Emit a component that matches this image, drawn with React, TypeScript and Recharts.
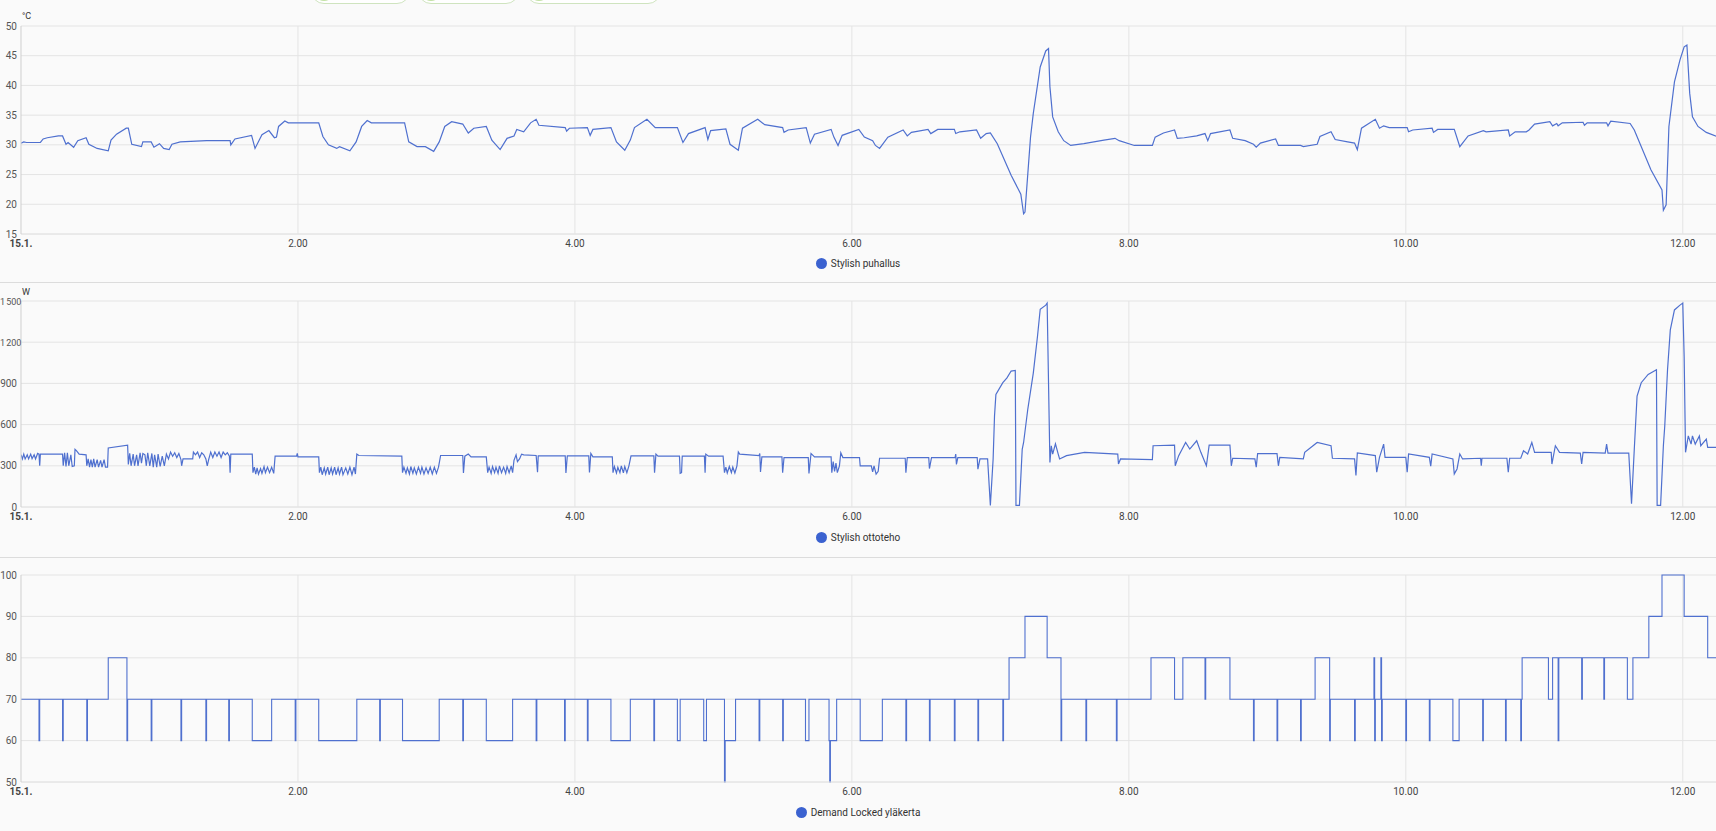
import React from 'react';
import { LineChart, Line, XAxis, YAxis, CartesianGrid } from 'recharts';

// time axis: hours after midnight 15.1.
const hourTicks = [0, 2, 4, 6, 8, 10, 12];
const hourLabels = ['15.1.', '2.00', '4.00', '6.00', '8.00', '10.00', '12.00'];
const tempTicks = [15, 20, 25, 30, 35, 40, 45, 50];
const powerTicks = [0, 300, 600, 900, 1200, 1500];
const demandTicks = [50, 60, 70, 80, 90, 100];

// Stylish puhallus, °C  [hour, value]
const tempPoints: [number, number][] = [
  [0, 30.3], [0.02, 30.5], [0.04, 30.4], [0.14, 30.4], [0.16, 31.0], [0.19, 31.2], [0.27, 31.5], [0.3, 31.5],
  [0.325, 30.1], [0.34, 30.4], [0.38, 29.6], [0.41, 30.7], [0.47, 31.2], [0.49, 30.1], [0.55, 29.4], [0.63, 29.0],
  [0.65, 30.8], [0.69, 31.8], [0.76, 32.8], [0.775, 32.8], [0.8, 30.1], [0.87, 29.7], [0.88, 30.5], [0.94, 30.5],
  [0.96, 29.6], [1.0, 30.2], [1.03, 29.4], [1.07, 29.2], [1.09, 30.1], [1.15, 30.5], [1.34, 30.7], [1.51, 30.7],
  [1.515, 30.0], [1.545, 31.0], [1.665, 31.6], [1.69, 29.4], [1.74, 31.7], [1.79, 32.4], [1.83, 31.2], [1.845, 31.3],
  [1.86, 33.1], [1.905, 34.0], [1.93, 33.7], [2.15, 33.7], [2.18, 31.4], [2.22, 30.0], [2.28, 29.4], [2.3, 29.7],
  [2.375, 29.0], [2.42, 30.5], [2.46, 33.1], [2.5, 34.1], [2.53, 33.7], [2.77, 33.7], [2.8, 30.5], [2.86, 29.7],
  [2.92, 29.7], [2.98, 28.9], [3.02, 30.5], [3.06, 33.1], [3.11, 33.9], [3.19, 33.5], [3.23, 32.0], [3.27, 32.8],
  [3.36, 33.1], [3.4, 30.8], [3.46, 29.2], [3.51, 31.1], [3.56, 31.5], [3.58, 32.6], [3.63, 32.2], [3.68, 33.7],
  [3.72, 34.3], [3.74, 33.3], [3.93, 32.9], [3.94, 32.3], [3.96, 32.8], [4.09, 32.9], [4.11, 31.6], [4.13, 32.6],
  [4.26, 32.9], [4.3, 30.5], [4.36, 29.1], [4.4, 30.8], [4.43, 32.9], [4.52, 34.3], [4.58, 32.9], [4.74, 32.9],
  [4.78, 30.4], [4.82, 31.9], [4.94, 32.9], [4.96, 30.9], [4.98, 32.4], [5.09, 32.7], [5.12, 30.1], [5.18, 29.1],
  [5.21, 32.8], [5.32, 34.3], [5.37, 33.4], [5.5, 32.9], [5.51, 32.1], [5.54, 32.5], [5.67, 32.9], [5.7, 30.3],
  [5.73, 31.8], [5.85, 32.6], [5.87, 31.3], [5.9, 29.9], [5.93, 31.6], [6.05, 32.6], [6.09, 31.3], [6.15, 30.7],
  [6.17, 29.9], [6.2, 29.4], [6.26, 31.3], [6.37, 32.5], [6.4, 31.5], [6.43, 32.1], [6.55, 32.6], [6.57, 31.9],
  [6.62, 32.6], [6.74, 32.6], [6.75, 31.9], [6.78, 32.2], [6.9, 32.5], [6.93, 31.1], [6.97, 31.9], [7.0, 32.0],
  [7.05, 30.2], [7.15, 24.9], [7.22, 21.7], [7.24, 18.4], [7.25, 18.7], [7.29, 31.3], [7.31, 35.3], [7.36, 43.1],
  [7.4, 45.8], [7.42, 46.2], [7.43, 39.8], [7.45, 34.7], [7.49, 32.2], [7.53, 30.7], [7.58, 29.9], [7.675, 30.2],
  [7.82, 30.8], [7.9, 31.1], [7.93, 30.7], [8.04, 29.9], [8.17, 29.9], [8.19, 31.3], [8.25, 32.0], [8.33, 32.5],
  [8.35, 31.1], [8.4, 31.2], [8.49, 31.5], [8.55, 31.9], [8.57, 30.7], [8.59, 31.9], [8.73, 32.5], [8.75, 31.1],
  [8.84, 30.7], [8.9, 30.1], [8.92, 29.6], [8.95, 30.3], [9.06, 31.0], [9.08, 29.9], [9.24, 29.9], [9.26, 29.7],
  [9.36, 30.1], [9.38, 31.4], [9.46, 32.2], [9.49, 30.9], [9.58, 30.5], [9.63, 30.3], [9.65, 29.2], [9.68, 32.8],
  [9.78, 34.3], [9.81, 32.8], [9.84, 33.2], [9.88, 32.9], [10.01, 32.9], [10.02, 32.2], [10.05, 32.5], [10.19, 32.8],
  [10.2, 32.1], [10.23, 32.6], [10.35, 32.6], [10.39, 29.7], [10.45, 31.5], [10.56, 32.4], [10.58, 32.2], [10.74, 32.5],
  [10.75, 31.5], [10.79, 32.2], [10.87, 32.2], [10.89, 32.5], [10.93, 33.5], [11.04, 33.9], [11.06, 33.2], [11.09, 33.6],
  [11.1, 33.2], [11.13, 33.7], [11.28, 33.8], [11.29, 33.3], [11.31, 33.7], [11.45, 33.7], [11.46, 33.2], [11.48, 34.0],
  [11.62, 33.6], [11.65, 32.5], [11.77, 25.8], [11.85, 22.4], [11.86, 19.0], [11.88, 19.9], [11.9, 33.1], [11.94, 40.6],
  [11.98, 44.3], [12.01, 46.5], [12.03, 46.8], [12.05, 38.7], [12.07, 34.7], [12.11, 33.1], [12.17, 32.1], [12.25, 31.4],
];

// Stylish ottoteho, W  [hour, value]
const powerPoints: [number, number][] = [
  [0, 380], [0.01, 350], [0.02, 385], [0.03, 350], [0.045, 380], [0.055, 350], [0.07, 385], [0.08, 352],
  [0.095, 380], [0.105, 350], [0.12, 390], [0.13, 385], [0.135, 300], [0.14, 385], [0.3, 385], [0.305, 300],
  [0.315, 395], [0.325, 295], [0.335, 395], [0.345, 300], [0.36, 380], [0.37, 295], [0.385, 300], [0.39, 420],
  [0.4, 410], [0.42, 385], [0.47, 380], [0.475, 300], [0.485, 350], [0.495, 290], [0.505, 345], [0.515, 290],
  [0.525, 350], [0.535, 290], [0.55, 345], [0.56, 290], [0.575, 340], [0.585, 290], [0.6, 345], [0.61, 290],
  [0.625, 290], [0.63, 430], [0.77, 450], [0.775, 310], [0.785, 390], [0.795, 300], [0.81, 385], [0.82, 300],
  [0.835, 380], [0.845, 300], [0.86, 395], [0.87, 320], [0.88, 390], [0.895, 380], [0.905, 300], [0.915, 395],
  [0.93, 300], [0.945, 390], [0.955, 290], [0.965, 380], [0.98, 290], [0.99, 385], [1.005, 295], [1.02, 370],
  [1.035, 300], [1.05, 385], [1.065, 350], [1.08, 400], [1.095, 370], [1.11, 395], [1.125, 360], [1.14, 390],
  [1.155, 345], [1.16, 300], [1.17, 350], [1.24, 350], [1.245, 400], [1.26, 380], [1.275, 400], [1.29, 360],
  [1.305, 395], [1.32, 380], [1.335, 350], [1.345, 300], [1.355, 345], [1.37, 400], [1.385, 360], [1.4, 400],
  [1.415, 370], [1.43, 400], [1.445, 360], [1.46, 400], [1.475, 380], [1.49, 395], [1.505, 370], [1.51, 250],
  [1.515, 385], [1.67, 385], [1.675, 250], [1.685, 290], [1.695, 240], [1.705, 285], [1.715, 240], [1.73, 280],
  [1.74, 245], [1.755, 295], [1.765, 250], [1.78, 290], [1.795, 250], [1.81, 290], [1.825, 245], [1.835, 370],
  [1.99, 370], [1.995, 390], [2.0, 365], [2.15, 365], [2.155, 250], [2.165, 290], [2.175, 235], [2.19, 285],
  [2.2, 240], [2.215, 290], [2.225, 235], [2.24, 285], [2.25, 240], [2.265, 290], [2.275, 235], [2.29, 285],
  [2.3, 240], [2.315, 290], [2.325, 235], [2.345, 285], [2.36, 240], [2.375, 290], [2.39, 235], [2.405, 290],
  [2.415, 240], [2.425, 385], [2.44, 375], [2.75, 370], [2.755, 250], [2.765, 290], [2.78, 245], [2.79, 285],
  [2.805, 240], [2.815, 295], [2.83, 245], [2.84, 285], [2.855, 240], [2.87, 290], [2.885, 245], [2.895, 290],
  [2.91, 240], [2.925, 285], [2.94, 245], [2.955, 290], [2.97, 240], [2.985, 290], [3.0, 245], [3.015, 290],
  [3.03, 375], [3.19, 375], [3.195, 248], [3.205, 370], [3.23, 386], [3.25, 365], [3.36, 365], [3.37, 250],
  [3.38, 290], [3.395, 245], [3.405, 295], [3.42, 250], [3.43, 290], [3.445, 245], [3.455, 300], [3.47, 250],
  [3.485, 290], [3.5, 245], [3.51, 295], [3.525, 250], [3.54, 300], [3.55, 250], [3.56, 340], [3.575, 380],
  [3.585, 330], [3.6, 350], [3.615, 385], [3.63, 380], [3.72, 375], [3.73, 253], [3.735, 372], [3.93, 372],
  [3.935, 248], [3.945, 372], [4.1, 372], [4.105, 252], [4.115, 390], [4.13, 365], [4.27, 365], [4.275, 250],
  [4.285, 295], [4.3, 248], [4.31, 290], [4.325, 250], [4.335, 300], [4.35, 248], [4.36, 295], [4.375, 250],
  [4.39, 300], [4.405, 372], [4.57, 372], [4.575, 250], [4.585, 385], [4.6, 370], [4.755, 370], [4.76, 245],
  [4.77, 250], [4.775, 370], [4.935, 370], [4.94, 250], [4.945, 385], [4.965, 370], [5.07, 370], [5.08, 250],
  [5.09, 290], [5.1, 248], [5.115, 295], [5.13, 250], [5.14, 290], [5.155, 248], [5.17, 300], [5.18, 400],
  [5.19, 385], [5.33, 375], [5.335, 390], [5.34, 255], [5.35, 365], [5.495, 365], [5.5, 250], [5.51, 360],
  [5.685, 360], [5.69, 245], [5.705, 390], [5.73, 365], [5.85, 365], [5.855, 250], [5.865, 330], [5.875, 260],
  [5.885, 320], [5.895, 250], [5.91, 300], [5.92, 395], [5.935, 360], [6.055, 360], [6.06, 300], [6.14, 300],
  [6.15, 255], [6.16, 300], [6.175, 240], [6.19, 260], [6.2, 355], [6.385, 355], [6.39, 250], [6.4, 360],
  [6.555, 360], [6.56, 280], [6.575, 360], [6.745, 360], [6.75, 385], [6.755, 310], [6.765, 360], [6.905, 360],
  [6.91, 275], [6.925, 350], [6.98, 350], [7.0, 12], [7.02, 350], [7.03, 663], [7.04, 820], [7.09, 905],
  [7.12, 940], [7.15, 990], [7.18, 995], [7.185, 12], [7.21, 12], [7.23, 420], [7.24, 470], [7.27, 710],
  [7.31, 975], [7.34, 1240], [7.36, 1440], [7.4, 1470], [7.41, 1485], [7.43, 325], [7.44, 445], [7.45, 385],
  [7.47, 460], [7.49, 385], [7.5, 350], [7.55, 374], [7.68, 398], [7.92, 385], [7.925, 313], [7.94, 350],
  [8.17, 345], [8.175, 446], [8.33, 450], [8.335, 300], [8.36, 374], [8.41, 470], [8.44, 422], [8.49, 482],
  [8.52, 398], [8.56, 300], [8.58, 450], [8.73, 450], [8.74, 300], [8.75, 355], [8.91, 350], [8.92, 290],
  [8.93, 388], [9.07, 388], [9.08, 300], [9.09, 362], [9.26, 350], [9.27, 398], [9.36, 470], [9.46, 446],
  [9.47, 355], [9.63, 350], [9.64, 230], [9.65, 393], [9.78, 374], [9.79, 253], [9.81, 362], [9.84, 458],
  [9.85, 362], [10.0, 362], [10.01, 253], [10.02, 386], [10.17, 362], [10.18, 297], [10.19, 386], [10.34, 350],
  [10.35, 241], [10.37, 277], [10.39, 386], [10.41, 350], [10.54, 355], [10.545, 300], [10.55, 355], [10.73, 355],
  [10.74, 253], [10.75, 355], [10.83, 355], [10.85, 410], [10.88, 386], [10.91, 470], [10.93, 398], [11.05, 398],
  [11.055, 313], [11.08, 446], [11.11, 398], [11.26, 393], [11.27, 313], [11.28, 398], [11.44, 393], [11.45, 458],
  [11.46, 393], [11.61, 393], [11.63, 24], [11.65, 422], [11.67, 808], [11.7, 905], [11.75, 965], [11.81, 1000],
  [11.815, 12], [11.84, 12], [11.86, 446], [11.87, 590], [11.89, 1000], [11.91, 1290], [11.94, 1435], [11.98, 1470],
  [12.0, 1485], [12.01, 1097], [12.02, 398], [12.04, 518], [12.06, 458], [12.07, 518], [12.09, 458], [12.12, 518],
  [12.13, 446], [12.17, 494], [12.18, 434], [12.25, 434],
];

// Demand Locked yläkerta, step changes  [hour, value]
const demandPoints: [number, number][] = [
  [0, 70], [0.13, 60], [0.135, 70], [0.3, 60], [0.305, 70], [0.475, 60], [0.48, 70], [0.63, 80],
  [0.765, 60], [0.77, 70], [0.94, 60], [0.945, 70], [1.155, 60], [1.16, 70], [1.335, 60], [1.34, 70],
  [1.5, 60], [1.505, 70], [1.67, 60], [1.81, 70], [1.98, 60], [1.985, 70], [2.15, 60], [2.425, 70],
  [2.59, 60], [2.595, 70], [2.755, 60], [3.02, 70], [3.19, 60], [3.195, 70], [3.36, 60], [3.55, 70],
  [3.72, 60], [3.725, 70], [3.925, 60], [3.93, 70], [4.09, 60], [4.095, 70], [4.26, 60], [4.4, 70],
  [4.57, 60], [4.575, 70], [4.74, 60], [4.76, 70], [4.93, 60], [4.95, 70], [5.08, 50], [5.085, 60],
  [5.16, 70], [5.33, 60], [5.335, 70], [5.5, 60], [5.505, 70], [5.665, 60], [5.69, 70], [5.835, 60],
  [5.84, 50], [5.845, 60], [5.89, 70], [6.06, 60], [6.22, 70], [6.39, 60], [6.395, 70], [6.56, 60],
  [6.565, 70], [6.74, 60], [6.745, 70], [6.91, 60], [6.915, 70], [7.09, 60], [7.095, 70], [7.135, 80],
  [7.25, 90], [7.41, 80], [7.51, 60], [7.515, 70], [7.69, 60], [7.695, 70], [7.91, 60], [7.915, 70],
  [8.16, 80], [8.33, 70], [8.39, 80], [8.55, 70], [8.555, 80], [8.73, 70], [8.9, 60], [8.905, 70],
  [9.07, 60], [9.075, 70], [9.24, 60], [9.245, 70], [9.345, 80], [9.45, 60], [9.455, 70], [9.63, 60],
  [9.635, 70], [9.77, 80], [9.775, 60], [9.78, 70], [9.82, 80], [9.825, 60], [9.83, 70], [10.0, 60],
  [10.005, 70], [10.17, 60], [10.175, 70], [10.34, 60], [10.385, 70], [10.555, 60], [10.56, 70], [10.72, 60],
  [10.725, 70], [10.83, 60], [10.835, 70], [10.84, 80], [11.03, 70], [11.06, 80], [11.1, 60], [11.105, 80],
  [11.27, 70], [11.275, 80], [11.43, 70], [11.435, 80], [11.6, 70], [11.64, 80], [11.755, 90], [11.85, 100],
  [12.01, 90], [12.18, 80], [12.25, 80],
];

const toRows = (pts: [number, number][]) => pts.map(([h, v]) => ({ h, v }));
const tempData = toRows(tempPoints);
const powerData = toRows(powerPoints);
const demandData = toRows(demandPoints);

const LINE = '#4f70cf';
const DOT = '#3b62d0';
const FONT = 'Roboto, "Noto Sans", sans-serif';
const W = 1716;

const HourTick = ({ x, y, payload }: any) => {
  const i = hourTicks.indexOf(payload.value);
  return (
    <text x={x} y={y} dy={8.5} textAnchor="middle" fontSize={10} fill="#444"
      fontFamily={FONT} fontWeight={i === 0 ? 700 : 400}>
      {hourLabels[i]}
    </text>
  );
};

// thousands split with a narrow no-break space, e.g. "1 500"
const fmtPower = (v: number) =>
  v >= 1000 ? `${Math.floor(v / 1000)}\u202F${String(v % 1000).padStart(3, '0')}` : String(v);

const ValueTick = ({ x, y, payload, fmt }: any) => {
  const label = fmt ? fmt(payload.value) : String(payload.value);
  // the widest labels would run off the left edge; pin them to it instead
  const wide = label.length > 4;
  return (
    <text x={wide ? 0 : x} y={y} dy={3.5} textAnchor={wide ? 'start' : 'end'}
      fontSize={wide ? 9 : 10} fill="#555" fontFamily={FONT}>
      {label}
    </text>
  );
};

interface PanelProps {
  top: number;
  height: number;
  marginTop: number;
  marginBottom: number;
  data: Array<{ h: number; v: number }>;
  ticks: number[];
  step?: boolean;
  fmt?: (v: number) => string;
}

const Panel = ({ top, height, marginTop, marginBottom, data, ticks, step, fmt }: PanelProps) => (
  <div style={{ position: 'absolute', left: 0, top }}>
    <LineChart width={W} height={height} data={data}
      margin={{ top: marginTop, right: 0, left: 0, bottom: marginBottom }}>
      <CartesianGrid stroke="#e4e4e4" strokeWidth={1} horizontalValues={ticks}
        verticalValues={hourTicks.slice(1)} />
      <XAxis dataKey="h" type="number" domain={[0, 12.24]} allowDataOverflow ticks={hourTicks}
        height={20} tickSize={0} tickMargin={4} tick={<HourTick />} tickLine={false}
        axisLine={{ stroke: '#e4e4e4' }} interval={0} />
      <YAxis type="number" domain={[ticks[0], ticks[ticks.length - 1]]} ticks={ticks} width={21}
        tickSize={0} tickMargin={4} tickLine={false} axisLine={{ stroke: '#cfcfcf' }} interval={0}
        tick={<ValueTick fmt={fmt} />} />
      <Line dataKey="v" type={step ? 'stepAfter' : 'linear'} stroke={LINE}
        strokeWidth={step ? 1.1 : 1.2} dot={false} isAnimationActive={false} />
    </LineChart>
  </div>
);

const LegendRow = ({ top, label }: { top: number; label: string }) => (
  <div style={{
    position: 'absolute', left: 0, top, width: W, height: 12, display: 'flex',
    justifyContent: 'center', alignItems: 'center', gap: 4, fontSize: 10, color: '#333', fontFamily: FONT,
  }}>
    <span style={{ width: 11, height: 11, borderRadius: '50%', background: DOT, display: 'inline-block' }} />
    <span>{label}</span>
  </div>
);

const pills = [
  { left: 311, width: 99 },
  { left: 418, width: 101 },
  { left: 526, width: 135 },
];

const App = () => (
  <div style={{
    position: 'absolute', left: 0, top: 0, width: W, height: 831, background: '#fafafa',
    overflow: 'hidden', fontFamily: FONT,
  }}>
    {pills.map((p) => (
      <div key={p.left} style={{
        position: 'absolute', left: p.left, top: -22, width: p.width, height: 26,
        border: '1px solid #cfe4bf', borderRadius: 13, background: '#fff', boxSizing: 'border-box',
      }}>
        <div style={{
          position: 'absolute', left: 2, top: 2, width: 20, height: 20, borderRadius: '50%', background: '#c3e2a6',
        }} />
      </div>
    ))}

    <div style={{ position: 'absolute', left: 22, top: 11, fontSize: 9, color: '#333' }}>°C</div>
    <Panel top={0} height={282} marginTop={26} marginBottom={28} data={tempData} ticks={tempTicks} />
    <LegendRow top={257} label="Stylish puhallus" />

    <div style={{ position: 'absolute', left: 0, top: 282, width: W, height: 1, background: '#dcdcdc' }} />
    <div style={{ position: 'absolute', left: 22, top: 287, fontSize: 9, color: '#333' }}>W</div>
    <Panel top={282} height={275} marginTop={19} marginBottom={30} data={powerData} ticks={powerTicks}
      fmt={fmtPower} />
    <LegendRow top={531} label="Stylish ottoteho" />

    <div style={{ position: 'absolute', left: 0, top: 557, width: W, height: 1, background: '#dcdcdc' }} />
    <Panel top={557} height={274} marginTop={18} marginBottom={29} data={demandData} ticks={demandTicks}
      step />
    <LegendRow top={806} label="Demand Locked yläkerta" />
  </div>
);

export default App;
